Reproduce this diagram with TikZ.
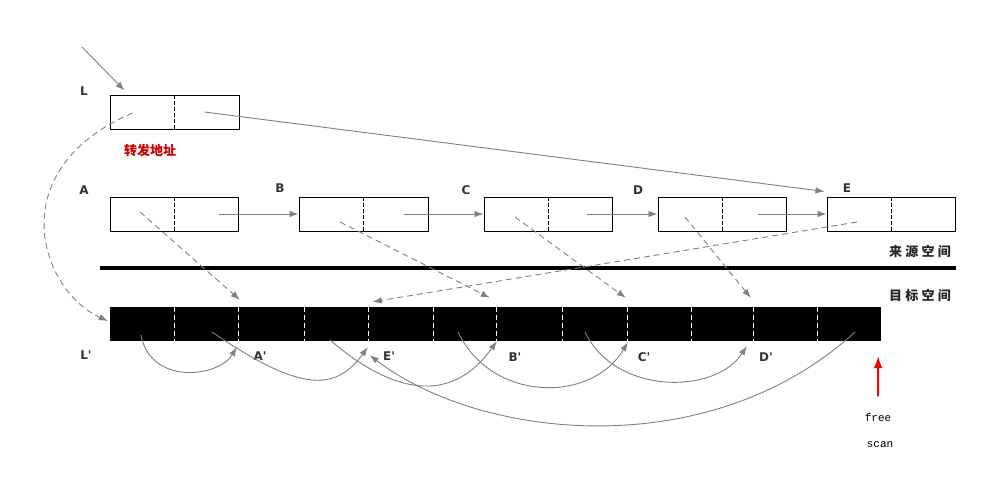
\documentclass[tikz,border=0pt]{standalone}
\usepackage{fontspec}
\setmainfont{DejaVu Sans}
\setmonofont{Liberation Mono}
\newfontfamily\cjk{Noto Sans CJK SC}
\newfontfamily\cjkwide[LetterSpace=25]{Noto Sans CJK SC}
\usetikzlibrary{positioning,arrows.meta,calc}

\begin{document}
\begin{tikzpicture}[x=1pt, y=-1pt,
    obj/.style={draw, line width=1pt, minimum height=34pt, inner sep=0pt},
    cell/.style={minimum height=34pt, inner sep=0pt},
    lbl/.style={font=\bfseries\fontsize{12}{12}\selectfont, text=black!80},
    space/.style={font=\cjkwide\bfseries\fontsize{13}{13}\selectfont, text=black!85},
    ptr/.style={draw=black!50, line width=0.9pt, -{Latex[length=9pt,width=6.5pt]}},
    fwd/.style={ptr, dash pattern=on 6pt off 4pt},
    slot/.style={draw, line width=1pt, dash pattern=on 4pt off 2pt},
    wslot/.style={draw=white, line width=1pt, dash pattern=on 5pt off 3pt}]

    \useasboundingbox (0,0) rectangle (997,501);

    % source space
    \node[obj, minimum width=129pt] (L) at (174.5,112) {};
    \node[obj, minimum width=128pt] (A) at (174,214) {};
    \node[obj, minimum width=129pt] (B) at (363.5,214) {};
    \node[obj, minimum width=128pt] (C) at (548,214) {};
    \node[obj, minimum width=128pt] (D) at (722,214) {};
    \node[obj, minimum width=128pt] (E) at (891,214) {};
    \foreach \n in {L,A,B,C,D,E}
        \path[slot] (\n.north) -- (\n.south);

    \node[lbl] (nL) at (84,91) {L};
    \node[lbl] (nA) at (84,190) {A};
    \node[lbl] (nB) at (280,188) {B};
    \node[lbl] (nC) at (466,190) {C};
    \node[lbl] (nD) at (638,190) {D};
    \node[lbl] (nE) at (847,188) {E};
    \node[font=\cjk\bfseries\fontsize{13}{13}\selectfont, text=red!80!black] (fwdaddr) at (150,151) {转发地址};

    \path[draw, line width=4pt] (100,268) -- (956,268);
    \node[space] (src) at (920,252) {来源空间};
    \node[space] (dst) at (920,295) {目标空间};

    % target space
    \node[cell, minimum width=129pt] (Lp) at (174.5,324) {};
    \node[cell, minimum width=130pt] (Ap) at (304,324) {};
    \node[cell, minimum width=128pt] (Ep) at (433,324) {};
    \node[cell, minimum width=131pt] (Bp) at (562.5,324) {};
    \node[cell, minimum width=126pt] (Cp) at (691,324) {};
    \node[cell, minimum width=127pt] (Dp) at (817.5,324) {};
    \path[fill=black] (Lp.north west) rectangle (Dp.south east);
    \foreach \n in {Lp,Ap,Ep,Bp,Cp,Dp}
        \path[wslot] (\n.north) -- (\n.south);
    \foreach \n in {Ap,Ep,Bp,Cp,Dp}
        \path[wslot] (\n.north west) -- (\n.south west);

    \node[lbl] (nLp) at (86,355) {L\textquotesingle};
    \node[lbl] (nAp) at (260,356) {A\textquotesingle};
    \node[lbl] (nEp) at (389,356) {E\textquotesingle};
    \node[lbl] (nBp) at (515,357) {B\textquotesingle};
    \node[lbl] (nCp) at (644,357) {C\textquotesingle};
    \node[lbl] (nDp) at (766,357) {D\textquotesingle};

    % pointers
    \coordinate (root) at (82,47);
    \path[ptr] (root) -- ($(L.north west)+(15,-4)$);
    \path[ptr] ($(L.center)+(30,0)$) -- ($(E.north west)+(-2,-5)$);
    \path[ptr] ($(A.center)+(45,0)$) -- (B.west);
    \path[ptr] ($(B.center)+(40,0)$) -- (C.west);
    \path[ptr] ($(C.center)+(39,0)$) -- (D.west);
    \path[ptr] ($(D.center)+(36,0)$) -- (E.west);

    % copies
    \path[fwd] ($(L.center)+(-42,1)$) .. controls (0,170) and (40,290) .. ($(Lp.west)+(-2,-3)$);
    \path[fwd] ($(A.center)+(-34,-2)$) -- ($(Ap.north west)+(1,-7)$);
    \path[fwd] ($(B.center)+(-23.5,8)$) -- ($(Bp.north west)+(-7,-9)$);
    \path[fwd] ($(C.center)+(-33,3)$) -- ($(Cp.north west)+(-2,-9)$);
    \path[fwd] ($(D.center)+(-37,3)$) -- ($(Dp.north west)+(-3,-9)$);
    \path[fwd] ($(E.center)+(-34,8)$) -- ($(Ep.north west)+(4,-5)$);

    % updated pointers
    \path[ptr] ($(Lp.center)+(-33.5,11)$) .. controls (150,385) and (218,378) .. ($(Ap.south west)+(-2,6)$);
    \path[ptr] ($(Lp.center)+(37.5,8)$) .. controls (300,392) and (335,392) .. ($(Ep.south west)+(-1,6)$);
    \path[ptr] ($(Ap.center)+(26,16)$) .. controls (400,400) and (455,400) .. (Bp.south west);
    \path[ptr] ($(Ep.center)+(25,8)$) .. controls (492,403) and (592,403) .. ($(Cp.south west)+(0,1)$);
    \path[ptr] ($(Bp.center)+(22.5,8)$) .. controls (615,395) and (715,395) .. ($(Dp.south west)+(-7,5)$);
    \path[ptr] ($(Dp.center)+(37.5,8)$) .. controls (710,465) and (480,440) .. ($(Ep.south west)+(1,14)$);

    \node[font=\ttfamily\fontsize{11}{11}\selectfont] (free) at (878,418) {free};
    \node[font=\ttfamily\fontsize{11}{11}\selectfont] (scan) at (880,445) {scan};
    \path[draw=red, line width=2pt, -{Latex[length=12pt,width=9pt]}] ($(free.north)+(0,-14)$) -- ($(Dp.south east)+(-3,15)$);

\end{tikzpicture}
\end{document}
